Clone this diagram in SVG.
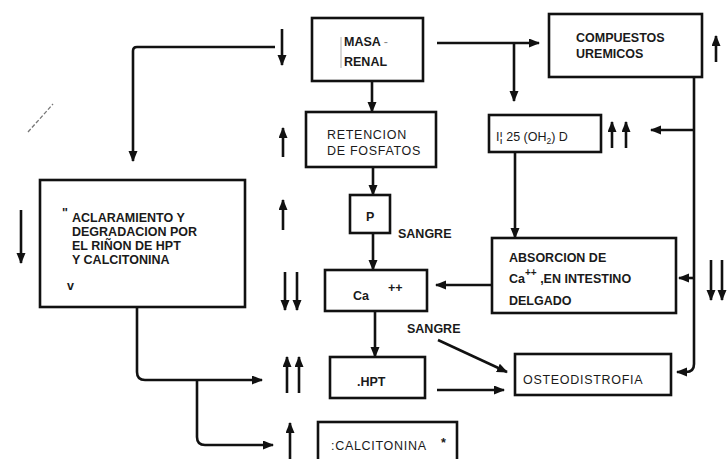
<svg xmlns="http://www.w3.org/2000/svg" width="727" height="459" viewBox="0 0 727 459">
<defs>
<marker id="ah" markerUnits="userSpaceOnUse" markerWidth="12" markerHeight="10" refX="10" refY="4.5" orient="auto">
<path d="M0,0 L11,4.5 L0,9 z" fill="#111"/>
</marker>
<marker id="ahs" markerUnits="userSpaceOnUse" markerWidth="12" markerHeight="10" refX="10" refY="4.5" orient="auto">
<path d="M0,0 L11,4.5 L0,9 z" fill="#111"/>
</marker>
<style>
.box{fill:#fff;stroke:#111;stroke-width:2.6}
.c{fill:none;stroke:#111;stroke-width:2.6;marker-end:url(#ah)}
.ci{fill:none;stroke:#111;stroke-width:2.6;marker-end:url(#ahs)}
text{font-family:"Liberation Sans",Arial,sans-serif;font-size:12.5px;font-weight:bold;fill:#1a1a1a}
.r{font-weight:normal;letter-spacing:0.7px}
</style>
</defs>
<rect width="727" height="459" fill="#fff"/>

<line x1="28" y1="132" x2="53" y2="104" stroke="#777" stroke-width="1.3" stroke-dasharray="4,2"/>

<g id="masa-renal">
<rect class="box" x="312" y="18" width="111" height="63"/>
<line x1="341" y1="37" x2="341" y2="68" stroke="#999" stroke-width="0.8"/>
<text x="344" y="46" font-size="11.5">MASA <tspan font-weight="normal" fill="#888">-</tspan></text>
<text x="344" y="66" font-size="11.5">RENAL</text>
</g>

<g id="compuestos-uremicos">
<rect class="box" x="549" y="14" width="153" height="63"/>
<text x="576" y="42">COMPUESTOS</text>
<text x="576" y="58">UREMICOS</text>
</g>

<g id="retencion-fosfatos">
<rect class="box" x="306" y="112" width="130" height="55"/>
<text x="327" y="139" class="r">RETENCION</text>
<text x="327" y="155" class="r">DE FOSFATOS</text>
</g>

<g id="vitamina-d">
<rect class="box" x="489" y="115" width="112" height="37"/>
<text x="496" y="141" class="r" style="letter-spacing:0">I¦ 25 (OH<tspan font-size="8.5" dy="3">2</tspan><tspan dy="-3">) D</tspan></text>
</g>

<g id="p-sangre">
<rect class="box" x="350" y="195" width="40" height="38"/>
<text x="366" y="221" font-size="9">P</text>
<text x="398" y="238">SANGRE</text>
</g>

<g id="aclaramiento">
<rect class="box" x="40" y="180" width="205" height="127"/>
<text x="62" y="217" font-size="9" fill="#666">"</text>
<text x="72" y="222">ACLARAMIENTO Y</text>
<text x="72" y="236">DEGRADACION POR</text>
<text x="72" y="250">EL RIÑON DE HPT</text>
<text x="72" y="264">Y CALCITONINA</text>
<text x="67" y="290" font-size="9" font-weight="normal" fill="#666">v</text>
</g>

<g id="absorcion">
<rect class="box" x="492" y="238" width="184" height="75"/>
<text x="509" y="262">ABSORCION DE</text>
<text x="509" y="283">Ca<tspan font-size="10" dy="-7">++</tspan><tspan dy="7"> ,EN INTESTINO</tspan></text>
<text x="509" y="305">DELGADO</text>
</g>

<g id="calcio">
<rect class="box" x="325" y="270" width="102" height="41"/>
<text x="353" y="300" font-size="9.5">Ca</text>
<text x="388" y="292" font-size="11">++</text>
</g>

<g id="hpt">
<rect class="box" x="330" y="357" width="95" height="41"/>
<text x="357" y="386" font-size="11">.HPT</text>
</g>

<g id="osteodistrofia">
<rect class="box" x="515" y="354" width="156" height="41"/>
<text x="523" y="384" class="r">OSTEODISTROFIA</text>
</g>

<g id="calcitonina">
<rect class="box" x="318" y="422" width="139" height="42"/>
<text x="331" y="450" class="r">:CALCITONINA</text>
<text x="441" y="447" font-size="10">*</text>
<text x="407" y="333">SANGRE</text>
</g>

<g id="connectors">
<path class="c" d="M275,47 H137 Q133,47 133,51 V161"/>
<path class="c" d="M437,43 H539"/>
<path class="c" d="M514,43 V101"/>
<path class="c" d="M372,81 V112"/>
<path class="c" d="M373,167 V195"/>
<path class="c" d="M373,233 V270"/>
<path class="c" d="M375,311 V357"/>
<path class="c" d="M515,152 V238"/>
<path class="c" d="M492,285 H436"/>
<path class="c" d="M694,77 V364 Q694,372 686,372 H677"/>
<path class="c" d="M694,130 H651"/>
<path class="c" d="M694,278 H679"/>
<path class="c" d="M438,340 L507,372"/>
<path class="c" d="M437,390 H504"/>
<path class="c" d="M137,307 V372 Q137,380 145,380 H262"/>
<path class="c" d="M197,380 V437 Q197,445 205,445 H273"/>
</g>

<g id="indicators">
<path class="ci" d="M282,29 V65"/>
<path class="ci" d="M716,62 V36"/>
<path class="ci" d="M283,157 V128"/>
<path class="ci" d="M612,148 V122"/>
<path class="ci" d="M626,148 V122"/>
<path class="ci" d="M283,230 V200"/>
<path class="ci" d="M21,210 V263"/>
<path class="ci" d="M285,272 V310"/>
<path class="ci" d="M297,272 V310"/>
<path class="ci" d="M711,260 V300"/>
<path class="ci" d="M722,260 V300"/>
<path class="ci" d="M287,393 V357"/>
<path class="ci" d="M299,393 V357"/>
<path class="ci" d="M290,462 V423"/>
</g>
</svg>
